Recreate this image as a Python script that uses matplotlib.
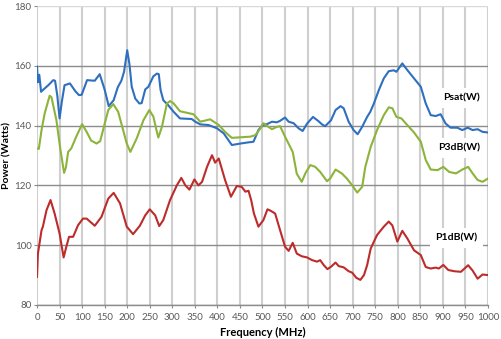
import matplotlib
matplotlib.use("Agg")
import matplotlib.pyplot as plt

plt.rcParams['font.family'] = ['Lato', 'DejaVu Sans']

# Psat(W)
psat_f = [0, 2, 5, 9, 13, 25, 36, 40, 45, 50, 55, 61, 73, 85, 93, 99, 111, 128, 139, 150,
          159, 170, 179, 187, 193, 200, 205, 210, 218, 227, 232, 240, 247, 258, 266, 270, 274,
          280, 291, 303, 317, 343, 351, 362, 380, 399, 414, 432, 451, 469, 480, 491, 500, 510,
          521, 532, 539, 550, 558, 569, 580, 589, 599, 612, 624, 632, 639, 652, 662, 673, 680,
          691, 702, 711, 721, 732, 739, 747, 758, 769, 780, 791, 797, 810, 821, 836, 851, 862,
          873, 884, 895, 906, 917, 932, 943, 955, 966, 977, 988, 1000]
psat_w = [159.7, 154.5, 157.0, 151.3, 151.9, 153.5, 155.2, 155.0, 150.0, 142.4, 148.0, 153.5,
          154.1, 151.5, 150.2, 150.3, 155.2, 155.0, 157.2, 152.0, 146.5, 148.5, 152.8, 155.0,
          158.0, 165.2, 160.5, 153.0, 149.0, 147.4, 147.5, 152.1, 153.0, 156.5, 157.4, 157.2,
          151.9, 148.5, 146.8, 144.6, 142.4, 142.2, 141.3, 140.4, 140.2, 139.1, 137.4, 133.5,
          134.0, 134.4, 134.6, 138.5, 140.1, 140.5, 141.3, 141.1, 141.6, 142.7, 141.3, 140.8,
          139.1, 138.2, 140.7, 142.9, 141.5, 140.4, 139.8, 141.8, 145.2, 146.5, 145.8, 141.3,
          138.5, 137.1, 139.6, 142.9, 144.6, 147.4, 151.9, 155.8, 158.2, 158.5, 158.0, 160.8,
          158.6, 155.8, 153.0, 147.4, 143.5, 143.2, 143.8, 140.7, 139.3, 139.3, 138.5, 139.3,
          138.5, 138.8, 137.9, 137.7]

# P3dB(W)
p3db_f = [0, 4, 10, 17, 28, 32, 43, 52, 60, 64, 69, 76, 87, 100, 110, 120, 132, 140, 158, 169,
          180, 190, 199, 207, 221, 236, 249, 258, 264, 269, 277, 288, 295, 303, 317, 347, 362,
          384, 403, 417, 432, 473, 484, 495, 502, 510, 521, 532, 539, 550, 567, 576, 587, 595,
          606, 617, 628, 643, 650, 662, 676, 687, 699, 710, 721, 728, 740, 754, 769, 780, 788,
          797, 808, 821, 836, 851, 862, 873, 888, 901, 914, 929, 943, 956, 966, 977, 988, 1000]
p3db_w = [132.4, 132.2, 138.5, 144.1, 150.0, 149.5, 141.8, 131.8, 124.2, 126.0, 131.2, 132.4,
          136.3, 140.5, 137.9, 135.0, 134.0, 134.8, 145.2, 147.2, 144.6, 139.0, 134.0, 131.2,
          135.7, 141.8, 145.2, 143.0, 139.0, 136.0, 139.6, 147.4, 148.2, 147.4, 144.8, 143.8,
          141.3, 142.1, 140.2, 137.9, 135.9, 136.3, 136.8, 139.0, 140.8, 139.9, 138.8, 139.6,
          139.8, 136.3, 131.2, 123.9, 121.2, 124.0, 126.8, 126.2, 124.5, 121.4, 122.3, 125.3,
          124.0, 122.3, 120.0, 117.6, 119.5, 126.2, 132.9, 138.5, 143.5, 146.1, 145.8, 142.9,
          142.4, 140.2, 137.7, 134.6, 128.5, 125.3, 125.1, 126.2, 124.5, 124.0, 125.3, 126.2,
          124.0, 121.8, 121.2, 122.3]

# P1dB(W)
p1db_f = [0, 2, 10, 13, 21, 30, 39, 50, 59, 65, 71, 80, 91, 102, 110, 128, 143, 158, 170, 184,
          199, 213, 228, 240, 250, 262, 271, 280, 295, 310, 320, 329, 338, 349, 358, 366, 377,
          388, 395, 403, 417, 430, 443, 454, 462, 469, 475, 481, 491, 502, 511, 517, 528, 539,
          550, 558, 567, 576, 587, 599, 610, 621, 628, 636, 644, 652, 662, 669, 680, 691, 699,
          708, 717, 725, 732, 740, 754, 769, 780, 788, 799, 810, 821, 836, 851, 862, 873, 884,
          891, 901, 912, 925, 940, 956, 966, 977, 988, 1000]
p1db_w = [89.4, 97.2, 105.0, 106.2, 111.7, 115.1, 110.6, 103.9, 95.9, 99.5, 102.8, 102.8,
          106.7, 108.9, 108.9, 106.5, 109.5, 115.6, 117.5, 114.0, 106.2, 103.7, 106.5, 110.0,
          112.0, 110.0, 106.4, 108.4, 115.1, 120.0, 122.5, 120.0, 118.6, 122.0, 120.0, 121.2,
          126.2, 130.1, 127.6, 129.0, 121.8, 116.2, 119.8, 119.5, 117.9, 118.2, 115.0, 110.6,
          106.2, 108.4, 112.0, 111.6, 110.6, 105.0, 99.5, 98.1, 100.8, 97.2, 96.3, 95.9, 95.0,
          94.5, 95.0, 93.3, 92.0, 92.8, 94.2, 93.0, 92.6, 91.3, 90.8, 89.1, 88.4, 90.0, 93.3,
          98.9, 103.4, 106.2, 107.9, 106.6, 101.2, 104.8, 102.3, 98.3, 96.7, 92.7, 92.2, 92.5,
          92.2, 93.4, 91.7, 91.3, 91.1, 93.3, 91.5, 88.8, 90.2, 90.0]

x_ticks = list(range(0, 1001, 50))
y_ticks = [80, 100, 120, 140, 160, 180]

fig = plt.figure(figsize=(5.01, 3.39), dpi=100)
ax = fig.add_axes([0.0739, 0.1003, 0.9001, 0.882])

ax.plot(psat_f, psat_w, color='#2f6fbf', lw=1.5, zorder=3, solid_joinstyle='round')
ax.plot(p3db_f, p3db_w, color='#8cb33a', lw=1.5, zorder=3, solid_joinstyle='round')
ax.plot(p1db_f, p1db_w, color='#be2b2b', lw=1.5, zorder=3, solid_joinstyle='round')

ax.set_xlim(0, 1000)
ax.set_ylim(80, 180)
ax.set_xticks(x_ticks)
ax.set_yticks(y_ticks)

for s in ['left', 'right', 'top']:
    ax.spines[s].set_visible(False)
ax.spines['bottom'].set_color('#8c8c8c')
ax.spines['bottom'].set_linewidth(1.0)

ax.grid(True, axis='x', color='#cfcfcf', lw=1.5)
ax.grid(True, axis='y', color='#8c8c8c', lw=1.0)
ygl = ax.yaxis.get_gridlines()
ygl[-1].set_color('#d9d9d9')
ax.set_axisbelow(True)

ax.tick_params(axis='both', colors='#8c8c8c', labelcolor='#595959', labelsize=7, length=2)
ax.tick_params(axis='x', pad=4)
ax.tick_params(axis='y', pad=2)

ax.set_xlabel('Frequency (MHz)', fontsize=8, fontweight='bold', labelpad=3)
ax.set_ylabel('Power (Watts)', fontsize=7.5, fontweight='bold')
ax.yaxis.set_label_coords(-0.057, 0.5)

box = dict(facecolor='white', edgecolor='none', pad=4)
ax.text(941, 149.1, 'Psat(W)', fontsize=7.5, fontweight='bold', ha='center', va='center', bbox=box, zorder=2)
ax.text(936, 132.4, 'P3dB(W)', fontsize=7.5, fontweight='bold', ha='center', va='center', bbox=box, zorder=2)
ax.text(930, 102.3, 'P1dB(W)', fontsize=7.5, fontweight='bold', ha='center', va='center', bbox=box, zorder=2)

fig.savefig('out.png', dpi=100)
